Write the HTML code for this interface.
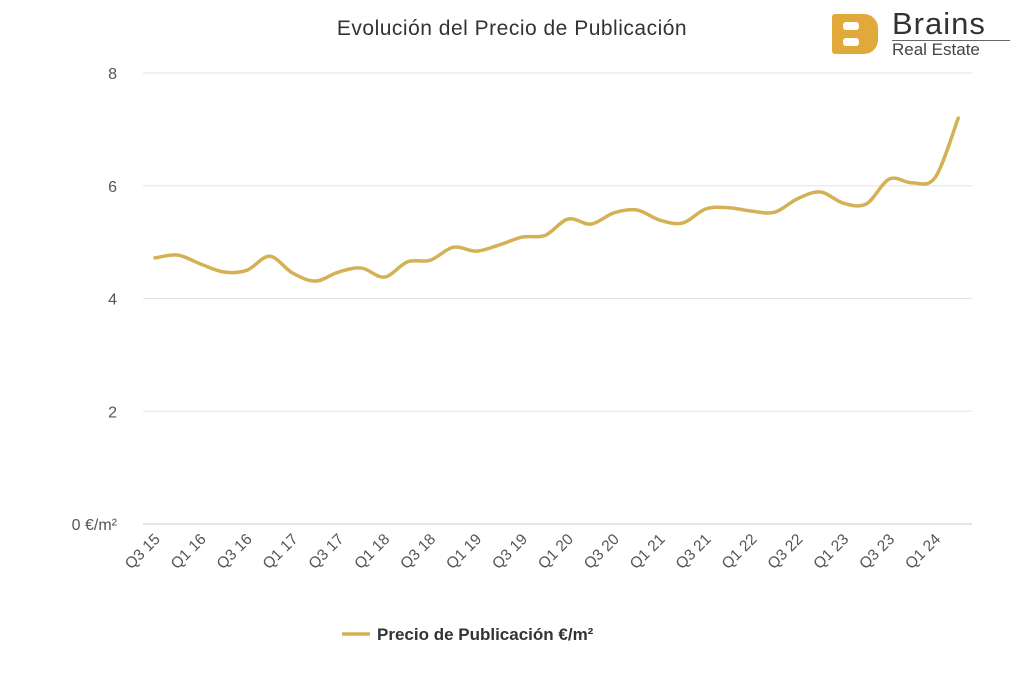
<!DOCTYPE html>
<html><head><meta charset="utf-8"><style>
body{margin:0;background:#fff;font-family:"Liberation Sans",sans-serif}
#wrap{position:relative;width:1024px;height:683px;overflow:hidden}
</style></head><body>
<div id="wrap">
<div style="position:absolute;left:830px;top:12px;width:190px;height:46px">
  <div style="position:absolute;left:2px;top:2px;width:46px;height:40px;background:#e0a93a;border-radius:3px 14px 14px 3px"></div>
  <div style="position:absolute;left:13px;top:10px;width:16px;height:8px;background:#fff;border-radius:3px"></div>
  <div style="position:absolute;left:13px;top:26px;width:16px;height:8px;background:#fff;border-radius:3px"></div>
  <div style="position:absolute;left:62px;top:-6px;font-size:31px;color:#333;letter-spacing:1px">Brains</div>
  <div style="position:absolute;left:62px;top:28px;width:118px;height:1px;background:#666"></div>
  <div style="position:absolute;left:62px;top:28px;font-size:17px;color:#444">Real Estate</div>
</div>
<svg id="svg" width="1024" height="683" style="position:absolute;left:0;top:0"></svg>
</div>
<script>
const categories=["Q3 15","Q4 15","Q1 16","Q2 16","Q3 16","Q4 16","Q1 17","Q2 17","Q3 17","Q4 17","Q1 18","Q2 18","Q3 18","Q4 18","Q1 19","Q2 19","Q3 19","Q4 19","Q1 20","Q2 20","Q3 20","Q4 20","Q1 21","Q2 21","Q3 21","Q4 21","Q1 22","Q2 22","Q3 22","Q4 22","Q1 23","Q2 23","Q3 23","Q4 23","Q1 24","Q2 24"];
const values=[4.72,4.77,4.61,4.47,4.50,4.75,4.45,4.31,4.47,4.54,4.38,4.65,4.68,4.91,4.84,4.95,5.09,5.12,5.41,5.32,5.52,5.57,5.39,5.34,5.59,5.61,5.55,5.53,5.77,5.89,5.69,5.68,6.12,6.05,6.15,7.2];
const yTicks=[0,2,4,6,8];
const yTickLabels=["0 €/m²","2","4","6","8"];
const NS="http://www.w3.org/2000/svg";
const svg=document.getElementById('svg');
const x0=155,dx=22.95,y0=524,yTop=73,yMax=8;
function xs(i){return x0+i*dx;}
function ys(v){return y0-(v/yMax)*(y0-yTop);}
function mk(t,a){const e=document.createElementNS(NS,t);for(const k in a)e.setAttribute(k,a[k]);svg.appendChild(e);return e;}
let t=mk('text',{x:512,y:35,'text-anchor':'middle','font-size':21,fill:'#333','letter-spacing':'0.5'});
t.textContent="Evolución del Precio de Publicación";


yTicks.forEach((v,k)=>{
  const l=mk('line',{x1:143,x2:972,y1:ys(v),y2:ys(v),stroke:v===0?'#b8cfe0':'#e3e3e3','stroke-width':1});
  
  
  const tx=mk('text',{x:117,y:ys(v)+6,'text-anchor':'end','font-size':16,fill:'#555'});
  tx.textContent=yTickLabels[k];
  
  
});
categories.forEach((c,i)=>{
  if(i%2)return;
  const x=xs(i)+6,y=y0+16;
  const tx=mk('text',{x:x,y:y,'text-anchor':'end','font-size':15.5,fill:'#555',transform:`rotate(-45 ${x} ${y})`});
  tx.textContent=c;
  
  
});
const pts=values.map((v,i)=>[xs(i),ys(v)]);
let d=`M${pts[0][0]},${pts[0][1]}`;
for(let i=0;i<pts.length-1;i++){
  const p0=pts[Math.max(0,i-1)],p1=pts[i],p2=pts[i+1],p3=pts[Math.min(pts.length-1,i+2)];
  const s=1/6;
  d+=` C${p1[0]+(p2[0]-p0[0])*s},${p1[1]+(p2[1]-p0[1])*s} ${p2[0]-(p3[0]-p1[0])*s},${p2[1]-(p3[1]-p1[1])*s} ${p2[0]},${p2[1]}`;
}
const path=mk('path',{d:d,fill:'none',stroke:'#d4b155','stroke-width':3.5,'stroke-linejoin':'round','stroke-linecap':'round'});


const ll=mk('line',{x1:342,x2:370,y1:634,y2:634,stroke:'#d4b155','stroke-width':3.5});


const lt=mk('text',{x:377,y:640,'font-size':17,'font-weight':'bold',fill:'#333'});
lt.textContent="Precio de Publicación €/m²";


</script>
</body></html>
